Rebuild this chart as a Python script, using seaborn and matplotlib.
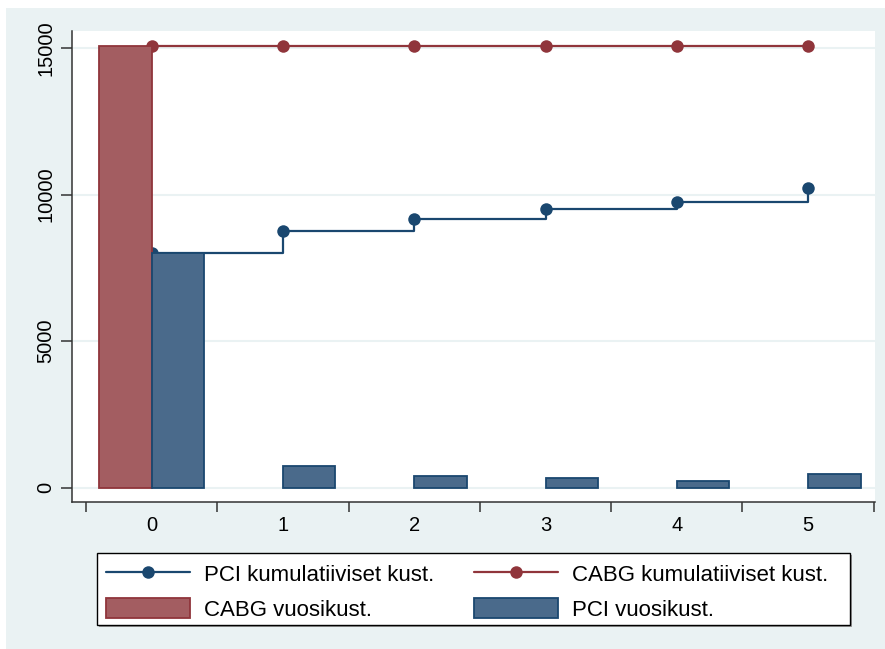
import numpy as np
import pandas as pd
import matplotlib
matplotlib.use("Agg")
import matplotlib.pyplot as plt
from matplotlib.lines import Line2D
from matplotlib.patches import Patch, Rectangle
import seaborn as sns

# ---- data ----
years = [0, 1, 2, 3, 4, 5]
pci_cum = [8000, 8765, 9154, 9505, 9744, 10232]
cabg_cum = [15080, 15080, 15080, 15080, 15080, 15080]
cabg_year = [15080, 0, 0, 0, 0, 0]
pci_year = [8000, 740, 389, 341, 218, 457]
y_ticks = [0, 5000, 10000, 15000]

lab_pci_cum = "PCI kumulatiiviset kust."
lab_cabg_cum = "CABG kumulatiiviset kust."
lab_cabg_year = "CABG vuosikust."
lab_pci_year = "PCI vuosikust."

NAVY = "#1a476f"
MAROON = "#90353b"
NAVY_FILL = "#4a6a8b"
MAROON_FILL = "#a35d61"
BG = "#eaf2f3"

sns.set_theme(style="white")
plt.rcParams["font.family"] = ["Liberation Sans", "DejaVu Sans"]
plt.rcParams["text.color"] = "black"
plt.rcParams["xtick.labelcolor"] = "black"
plt.rcParams["ytick.labelcolor"] = "black"

fig = plt.figure(figsize=(8.85, 6.49), dpi=100, facecolor="white")
fig.patches.append(Rectangle((6 / 885, 0), 1 - 6 / 885, 1 - 8 / 649,
                             transform=fig.transFigure, facecolor=BG,
                             edgecolor="none", zorder=-10))
ax = fig.add_axes([72 / 885, 1 - 502 / 649, (875 - 72) / 885, (502 - 31) / 649])
ax.set_facecolor("white")

# bars
rows = []
for yr, v in zip(years, cabg_year):
    if v:
        rows.append({"year": yr, "cost": v, "grp": lab_cabg_year})
for yr, v in zip(years, pci_year):
    if v:
        rows.append({"year": yr, "cost": v, "grp": lab_pci_year})
bars = pd.DataFrame(rows)
sns.barplot(data=bars, x="year", y="cost", hue="grp", order=years,
            hue_order=[lab_cabg_year, lab_pci_year],
            palette=[MAROON_FILL, NAVY_FILL], saturation=1, width=0.8,
            dodge=True, ax=ax, legend=False, zorder=3)
for cont, ec in zip(ax.containers, [MAROON, NAVY]):
    for p in cont.patches:
        p.set_edgecolor(ec)
        p.set_linewidth(1.3)

# cumulative lines
lines = pd.DataFrame({"year": years * 2,
                      "cost": pci_cum + cabg_cum,
                      "grp": [lab_pci_cum] * 6 + [lab_cabg_cum] * 6})
sns.lineplot(data=lines, x="year", y="cost", hue="grp",
             hue_order=[lab_pci_cum, lab_cabg_cum], palette=[NAVY, MAROON],
             drawstyle="steps-post", marker="o", markersize=9,
             markeredgewidth=0, linewidth=1.6, ax=ax, legend=False, zorder=2)

ax.set_xlim(-0.607, 5.51)
ax.set_ylim(-488, 15577)
ax.set_xlabel("")
ax.set_ylabel("")

# grid
ax.set_yticks(y_ticks)
ax.yaxis.grid(True, color=BG, linewidth=1.5, zorder=0)
ax.set_axisbelow(True)
ax.set_yticklabels([str(t) for t in y_ticks], rotation=90, va="center",
                   fontsize=14.5)

ax.set_xticks([y - 0.5 for y in years] + [5.5])
ax.set_xticklabels([])
ax.set_xticks(years, minor=True)
ax.set_xticklabels([str(y) for y in years], minor=True, fontsize=14.5)
ax.tick_params(axis="x", which="minor", length=0, pad=10)
ax.tick_params(axis="x", which="major", length=7, width=1.1, color="#333333",
               direction="out", bottom=True)
ax.tick_params(axis="y", length=8, width=1.1, color="#333333",
               direction="out", left=True, pad=4)

for s in ["top", "right"]:
    ax.spines[s].set_visible(False)
for s in ["left", "bottom"]:
    ax.spines[s].set_color("#333333")
    ax.spines[s].set_linewidth(1.1)

# legend frame (drawn manually) + shadow
W, H = 885, 649
fig.patches.append(Rectangle((99 / W, 1 - 627 / H), (850 - 97) / W, 72 / H,
                             transform=fig.transFigure, facecolor="#9a9a9a",
                             edgecolor="none", zorder=-5))
fig.patches.append(Rectangle((97 / W, 1 - 625 / H), (850 - 97) / W, 72 / H,
                             transform=fig.transFigure, facecolor="white",
                             edgecolor="black", linewidth=1.0, zorder=-4))

handles = [
    Line2D([], [], color=NAVY, lw=1.6, marker="o", ms=9, mew=0),
    Patch(facecolor=MAROON_FILL, edgecolor=MAROON, lw=1.3),
    Line2D([], [], color=MAROON, lw=1.6, marker="o", ms=9, mew=0),
    Patch(facecolor=NAVY_FILL, edgecolor=NAVY, lw=1.3),
]
labels = [lab_pci_cum, lab_cabg_year, lab_cabg_cum, lab_pci_year]
leg = fig.legend(handles, labels, ncol=2, loc="upper left",
                 bbox_to_anchor=(106 / W, 1 - 563.5 / H),
                 fontsize=16, frameon=False, handlelength=3.8, handleheight=1.0,
                 handletextpad=0.6, labelspacing=0.55, borderpad=0.0,
                 borderaxespad=0, columnspacing=1.8)
for t in leg.get_texts():
    t.set_color("black")

fig.savefig("out.png", dpi=100, facecolor=fig.get_facecolor())
